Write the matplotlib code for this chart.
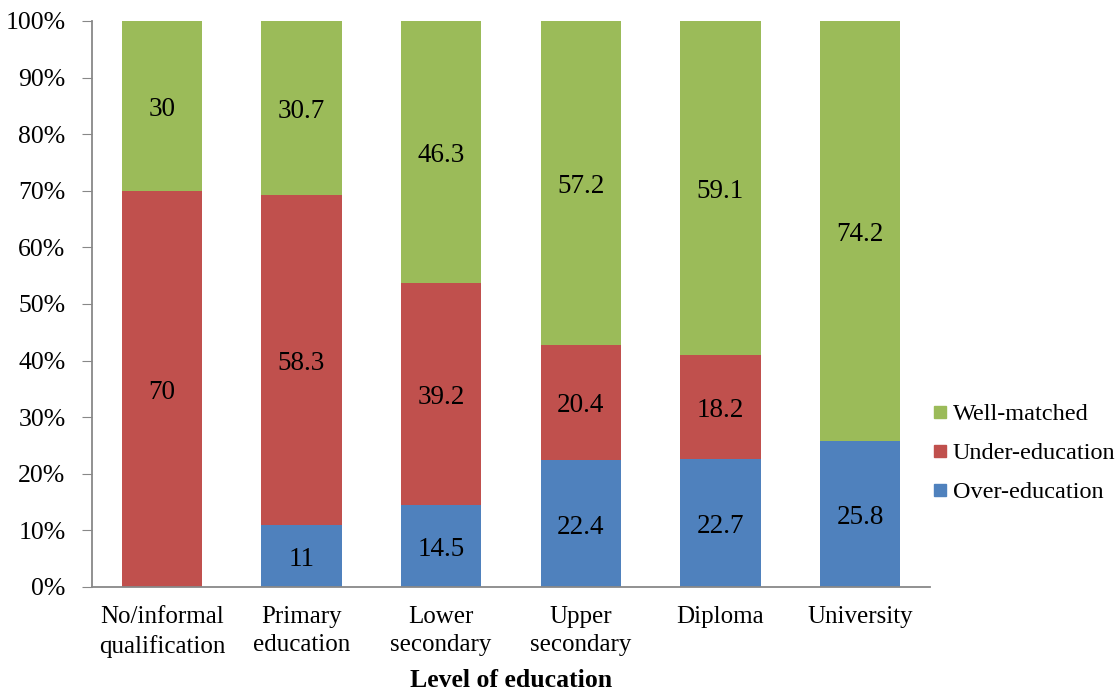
import numpy as np
import matplotlib
matplotlib.use("Agg")
import matplotlib.pyplot as plt
from matplotlib.lines import Line2D

categories = ["No/informal\nqualification", "Primary\neducation", "Lower\nsecondary",
              "Upper\nsecondary", "Diploma", "University"]
over = [0, 11, 14.5, 22.4, 22.7, 25.8]
under = [70, 58.3, 39.2, 20.4, 18.2, 0]
well = [30, 30.7, 46.3, 57.2, 59.1, 74.2]

plt.rcParams['font.family'] = ['Liberation Serif', 'DejaVu Serif']
fs = 18

fig = plt.figure(figsize=(11.19, 6.95), dpi=100)
ax = fig.add_axes([0.0822, 0.1554, 0.7489, 0.8144])

x = np.arange(len(categories))
w = 0.575
colors = {"Over-education": "#4F81BD", "Under-education": "#C0504D", "Well-matched": "#9BBB59"}

over = np.array(over)
under = np.array(under)
well = np.array(well)

ax.bar(x, over, w, color=colors["Over-education"])
ax.bar(x, under, w, bottom=over, color=colors["Under-education"])
ax.bar(x, well, w, bottom=over + under, color=colors["Well-matched"])

# value labels
for i in range(len(x)):
    base = 0
    for vals in (over, under, well):
        v = vals[i]
        if v > 0:
            ax.annotate(f"{v:g}", (x[i], base + v / 2), xytext=(0, -2.5),
                        textcoords="offset points", ha="center", va="center", fontsize=19.5)
        base += v

ax.set_xlim(-0.5, 5.5)
ax.set_ylim(0, 100)
ax.set_yticks(np.arange(0, 101, 10))
ax.set_yticklabels([f"{t}%" for t in range(0, 101, 10)], fontsize=18.5)
ax.set_xticks(x)
ax.set_xticklabels(categories, fontsize=fs, linespacing=1.35)
ax.tick_params(axis="x", length=0, pad=14)
ax.tick_params(axis="y", length=7, color="#888888", pad=12)

for s in ("top", "right"):
    ax.spines[s].set_visible(False)
for s in ("left", "bottom"):
    ax.spines[s].set_color("#888888")
    ax.spines[s].set_linewidth(1.3)

ax.set_xlabel("Level of education", fontsize=18.5, fontweight="bold", labelpad=8)

handles = [Line2D([], [], marker="s", linestyle="none", markersize=9,
                  markerfacecolor=colors[k], markeredgecolor=colors[k])
           for k in ("Well-matched", "Under-education", "Over-education")]
fig.legend(handles, ["Well-matched", "Under-education", "Over-education"],
           loc="center left", bbox_to_anchor=(0.81, 0.348), frameon=False,
           fontsize=17.5, handletextpad=0.0, labelspacing=0.7, handlelength=1.0)

fig.savefig("out.png", dpi=100)
